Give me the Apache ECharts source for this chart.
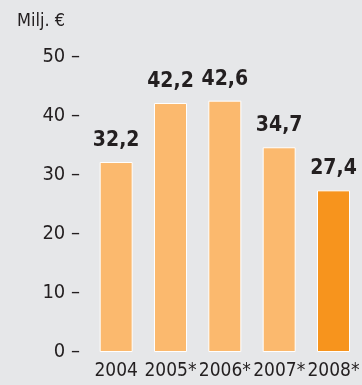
<!DOCTYPE html>
<html><head><meta charset="utf-8">
<script src="https://cdn.jsdelivr.net/npm/echarts@6/dist/echarts.min.js"></script>
<style>html,body{margin:0;padding:0;background:#e6e7e9;}#c{width:362px;height:385px;}</style>
</head><body><div id="c"></div>
<script>
const categories = ['2004', '2005*', '2006*', '2007*', '2008*'];
const values = [32.2, 42.2, 42.6, 34.7, 27.4];
const highlight = [false, false, false, false, true];
const yTicks = [0, 10, 20, 30, 40, 50];
const unitLabel = 'Milj. €';

const FONT = '"Liberation Sans Narrow", "DejaVu Sans Condensed", "Roboto", sans-serif';
const chart = echarts.init(document.getElementById('c'), null, {renderer: 'canvas'});
chart.setOption({
  backgroundColor: '#e6e7e9',
  animation: false,
  title: {
    text: unitLabel, left: 12, top: 7,
    textStyle: {fontFamily: FONT, fontSize: 18, fontWeight: 'normal', color: '#231f20'}
  },
  grid: {left: 89, width: 277, top: 57, bottom: 33},
  xAxis: {
    type: 'category', data: categories,
    axisLine: {show: false}, axisTick: {show: false},
    axisLabel: {fontFamily: FONT, fontSize: 19, color: '#231f20', margin: 10, interval: 0}
  },
  yAxis: {
    type: 'value', min: yTicks[0], max: yTicks[yTicks.length - 1], interval: 10,
    splitLine: {show: false}, axisLine: {show: false}, axisTick: {show: false},
    axisLabel: {fontFamily: FONT, fontSize: 20, color: '#231f20', margin: 9,
      formatter: v => v + ' –'}
  },
  series: [{
    type: 'bar', barWidth: 33,
    data: values.map((v, i) => ({
      value: v,
      itemStyle: {color: highlight[i] ? '#f7941d' : '#fbb96e'}
    })),
    itemStyle: {borderColor: '#ffffff', borderWidth: 1},
    label: {
      show: true, position: 'top', distance: 11,
      fontFamily: FONT, fontSize: 21, fontWeight: 'bold', color: '#231f20',
      formatter: p => String(p.value).replace('.', ',')
    }
  }]
});
</script></body></html>
